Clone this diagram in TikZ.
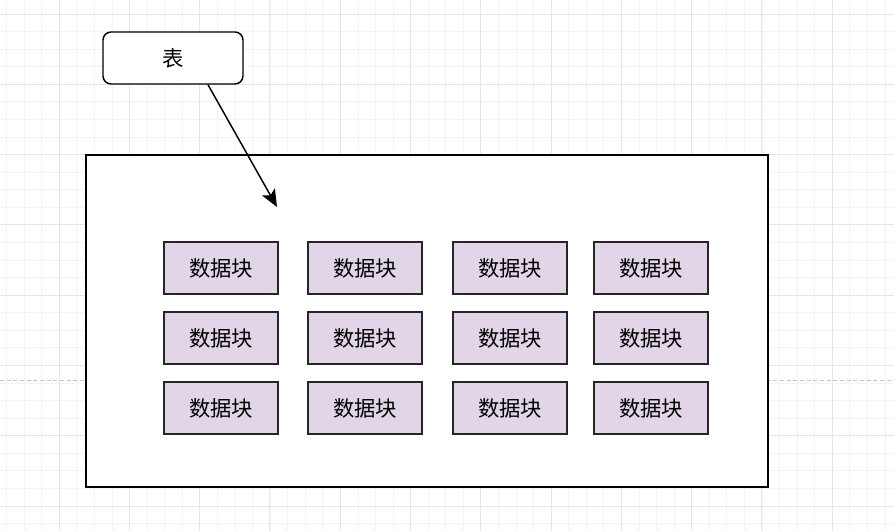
\documentclass[tikz,border=0pt]{standalone}
\usepackage{fontspec}
\newfontfamily\cjk{Noto Sans CJK SC}
\usetikzlibrary{arrows.meta}
\definecolor{gridminor}{HTML}{F3F3F3}
\definecolor{gridmajor}{HTML}{E6E6E6}
\definecolor{blockfill}{HTML}{E1D5E7}
\definecolor{dashgray}{HTML}{C8C8C8}
\tikzset{
  tablebox/.style={draw=black, line width=1.1pt, fill=white, rounded corners=6pt,
    minimum width=105pt, minimum height=39pt, inner sep=0pt, font=\cjk\fontsize{16}{19}\selectfont},
  outerbox/.style={draw=black, line width=1.1pt, fill=white, minimum width=511.5pt, minimum height=249pt, inner sep=0pt},
  datablock/.style={draw=black!85, line width=1.1pt, fill=blockfill, minimum width=85.5pt, minimum height=39pt,
    inner sep=0pt, font=\cjk\fontsize{16}{19}\selectfont},
  link/.style={draw=black, line width=1.1pt, -{Stealth[length=13pt,width=11pt,inset=3pt]}}
}
\begin{document}
\begin{tikzpicture}[x=0.75pt,y=-0.75pt]
\useasboundingbox (0,0) rectangle (894,531);
\fill[white] (0,0) rectangle (894,531);
% grid
\foreach \i in {0,...,51}{
  \pgfmathsetmacro{\gx}{6.5+17.57*\i}
  \draw[gridminor, line width=0.6pt] (\gx,0) -- (\gx,531);
}
\foreach \i in {0,...,30}{
  \pgfmathsetmacro{\gy}{14+17.57*\i}
  \draw[gridminor, line width=0.6pt] (0,\gy) -- (894,\gy);
}
\foreach \i in {0,...,12}{
  \pgfmathsetmacro{\gx}{59+70.28*\i}
  \draw[gridmajor, line width=0.6pt] (\gx,0) -- (\gx,531);
}
\foreach \i in {0,...,7}{
  \pgfmathsetmacro{\gy}{14+70.28*\i}
  \draw[gridmajor, line width=0.6pt] (0,\gy) -- (894,\gy);
}
% dashed page break line
\draw[dashgray, line width=0.6pt, dash pattern=on 3pt off 2pt] (0,380) -- (894,380);
% outer box
\node[outerbox] (box) at (427,321) {};
% table node
\node[tablebox] (t) at (173,58) {表};
% data blocks
\foreach \c/\x in {1/221,2/365,3/510,4/651}{
  \foreach \r/\y in {1/268,2/338,3/408}{
    \node[datablock] (b\r\c) at (\x,\y) {数据块};
  }
}
% arrow
\coordinate (tip) at (277,207);
\draw[link] ([xshift=26.25pt]t.south) -- (tip);
\end{tikzpicture}
\end{document}
